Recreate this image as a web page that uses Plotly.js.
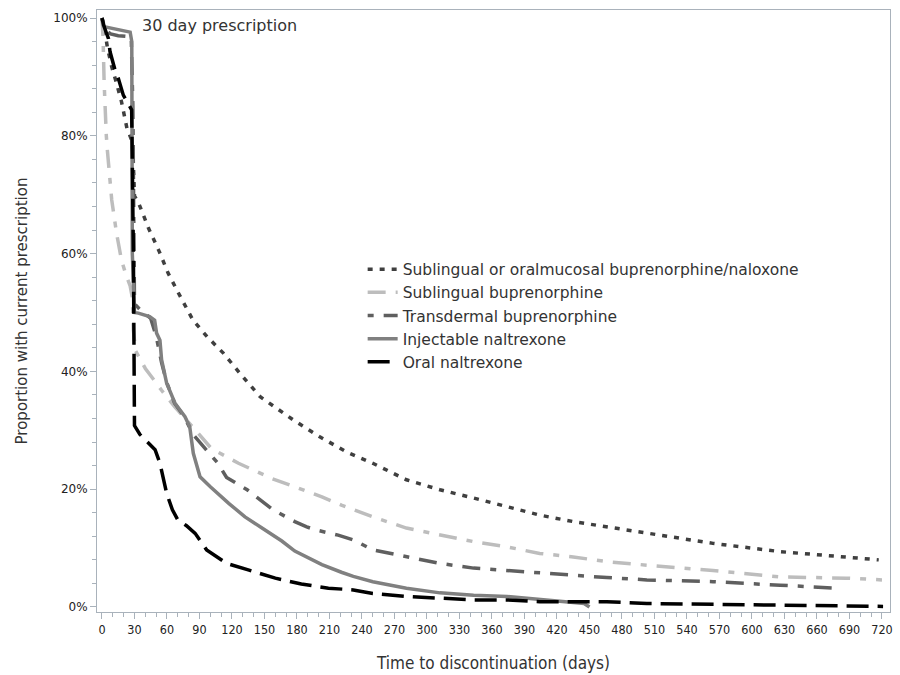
<!DOCTYPE html>
<html>
<head>
<meta charset="utf-8">
<script src="https://cdn.plot.ly/plotly-3.0.1.min.js"></script>
<style>html,body{margin:0;padding:0;background:#fff;}#chart{width:900px;height:675px;}</style>
</head>
<body>
<div id="chart"></div>
<script>
// Series names
const seriesNames = [
  "Sublingual or oralmucosal buprenorphine/naloxone",
  "Sublingual buprenorphine",
  "Transdermal buprenorphine",
  "Injectable naltrexone",
  "Oral naltrexone"
];

// Sublingual or oralmucosal buprenorphine/naloxone
const days1 = [0,2,5,9,13,18,23,26,28,29,30,34,43,53,61,70,84,97,112,129,146,177,201,226,250,281,312,343,374,404,435,466,503,564,626,687,717];
const pct1  = [100,98.5,95,91.7,89.2,85.8,81.3,80.1,79,75,69.8,68.5,64.3,60.3,56.7,53.5,48.7,45.9,43.1,39.3,35.7,31.7,28.9,26.3,24.4,21.6,19.9,18.5,17.0,15.6,14.5,13.6,12.6,10.8,9.4,8.5,8.0];

// Sublingual buprenorphine
const days2 = [0,1,2,3,4,5,7.4,9,13.5,18,22,26,28,29,31,40,55,67,86,101,126,157,178,203,221,250,281,312,343,374,404,435,466,503,564,626,687,720];
const pct2  = [100,96.5,89,83.5,80,77.5,72.5,69.1,63.4,58.9,56.5,54.5,52.5,47,43.5,40.5,36.8,34.0,30.1,26.9,24.4,21.8,20.4,18.7,17.3,15.3,13.4,12.2,11.1,10.2,9.1,8.5,7.7,7.1,6.2,5.1,4.9,4.6];

// Transdermal buprenorphine
const days3 = [0,3,8,15,27,28.5,30,35,45,50,55,60,67,76,84,95,107,115,129,134,158,178,189,197,218,232,250,281,312,343,374,404,435,466,503,564,626,678];
const pct3  = [100,98,97.3,97,96.8,85,51.5,50.5,49,46,41.5,38,34.6,32.3,29.3,26.9,24.4,22,20.4,19.9,16.5,14.5,13.6,13.1,12.2,11.4,9.7,8.5,7.4,6.6,6.2,5.7,5.4,5.0,4.6,4.3,3.7,3.2];

// Injectable naltrexone
const days4 = [0,1,3,10,20,26,27.5,28,30,33.5,44,48.6,50.4,53.5,55,56.6,59.7,67.4,76.6,81,84.3,90.5,100,117,132,147,166,178,203,221,232,250,281,312,343,374,404,435,445,450];
const pct4  = [100,98.8,98.5,98.2,97.9,97.6,96,60,50,49.9,49.3,48.7,46.5,45.3,42,40.8,38,34.6,32.3,30.6,26.1,22.1,20.4,17.6,15.3,13.5,11.2,9.5,7.2,5.9,5.2,4.3,3.2,2.4,2.0,1.8,1.3,0.9,0.6,0];

// Oral naltrexone
const days5 = [0,2,6,7.4,12,15,19.7,24,27.4,29,30,35,42.7,49,53.5,59.7,65,70,78,86,96.6,110,115,135,146,160,184,209,232,250,281,312,343,374,404,435,466,503,564,626,657,687,721];
const pct5  = [100,98.5,96.5,94.3,91.2,89.8,86.9,85.5,84.4,60,30.8,29.3,27.8,26.7,24.4,19.3,16.5,14.8,13.8,12.5,9.7,8.0,7.4,6.3,5.7,4.9,3.9,3.2,2.9,2.3,1.8,1.5,1.2,1.2,0.9,0.9,0.9,0.6,0.45,0.4,0.34,0.17,0.1];

// Axis ticks
const xTicks = [0,30,60,90,120,150,180,210,240,270,300,330,360,390,420,450,480,510,540,570,600,630,660,690,720];
const yTicks = [0,20,40,60,80,100];
const yTickLabels = ["0%","20%","40%","60%","80%","100%"];

const styles = [
  {color:"#3f3f3f", dash:"5px,7px"},
  {color:"#bdbdbd", dash:"18px,10px,6px,10px"},
  {color:"#5f5f5f", dash:"6px,10px,18px,10px"},
  {color:"#808080", dash:"solid"},
  {color:"#000000", dash:"22px,9px"}
];
const xs = [days1,days2,days3,days4,days5];
const ys = [pct1,pct2,pct3,pct4,pct5];

const traces = seriesNames.map((n,i)=>({
  x: xs[i], y: ys[i], name: n, type:"scatter", mode:"lines",
  line:{color:styles[i].color, dash:styles[i].dash, width:3.5},
  hoverinfo:"skip"
}));

const tickFont = {family:"DejaVu Sans Condensed, DejaVu Sans, sans-serif", size:12.5, color:"#222"};
const layout = {
  width:900, height:675,
  margin:{l:97, r:10, t:10, b:63},
  paper_bgcolor:"#fff", plot_bgcolor:"#fff",
  showlegend:true,
  legend:{x:0.335, y:0.597, xanchor:"left", yanchor:"top", bgcolor:"rgba(0,0,0,0)",
          font:{family:"DejaVu Sans, sans-serif", size:15.5, color:"#333"}, borderwidth:0,
          tracegroupgap:0},
  xaxis:{
    range:[-4.6, 727.4], tickvals:xTicks, ticktext:xTicks.map(String),
    showgrid:false, zeroline:false, showline:true, mirror:true, linecolor:"#a9b2bb", linewidth:1,
    ticks:"outside", ticklen:6, tickcolor:"#a9b2bb",
    minor:{dtick:10, tick0:0, ticklen:4, tickcolor:"#a9b2bb", ticks:"outside", showgrid:false},
    tickfont:tickFont,
    title:{text:"Time to discontinuation (days)", font:{family:"DejaVu Sans Condensed, DejaVu Sans, sans-serif", size:17, color:"#333"}, standoff:21}
  },
  yaxis:{
    range:[-0.85, 101.36], tickvals:yTicks, ticktext:yTickLabels,
    showgrid:false, zeroline:false, showline:true, mirror:true, linecolor:"#a9b2bb", linewidth:1,
    ticks:"outside", ticklen:6, tickcolor:"#a9b2bb",
    minor:{dtick:4, tick0:0, ticklen:4, tickcolor:"#a9b2bb", ticks:"outside", showgrid:false},
    tickfont:{family:"DejaVu Sans, sans-serif", size:12, color:"#222"},
    title:{text:"Proportion with current prescription", font:{family:"DejaVu Sans, sans-serif", size:15, color:"#333"}, standoff:22}
  },
  annotations:[{
    text:"30 day prescription", xref:"paper", yref:"paper", x:0.054, y:0.975,
    xanchor:"left", yanchor:"middle", showarrow:false,
    font:{family:"DejaVu Sans, sans-serif", size:16, color:"#333"}
  }]
};
Plotly.newPlot("chart", traces, layout, {displayModeBar:false, staticPlot:true});
</script>
</body>
</html>
